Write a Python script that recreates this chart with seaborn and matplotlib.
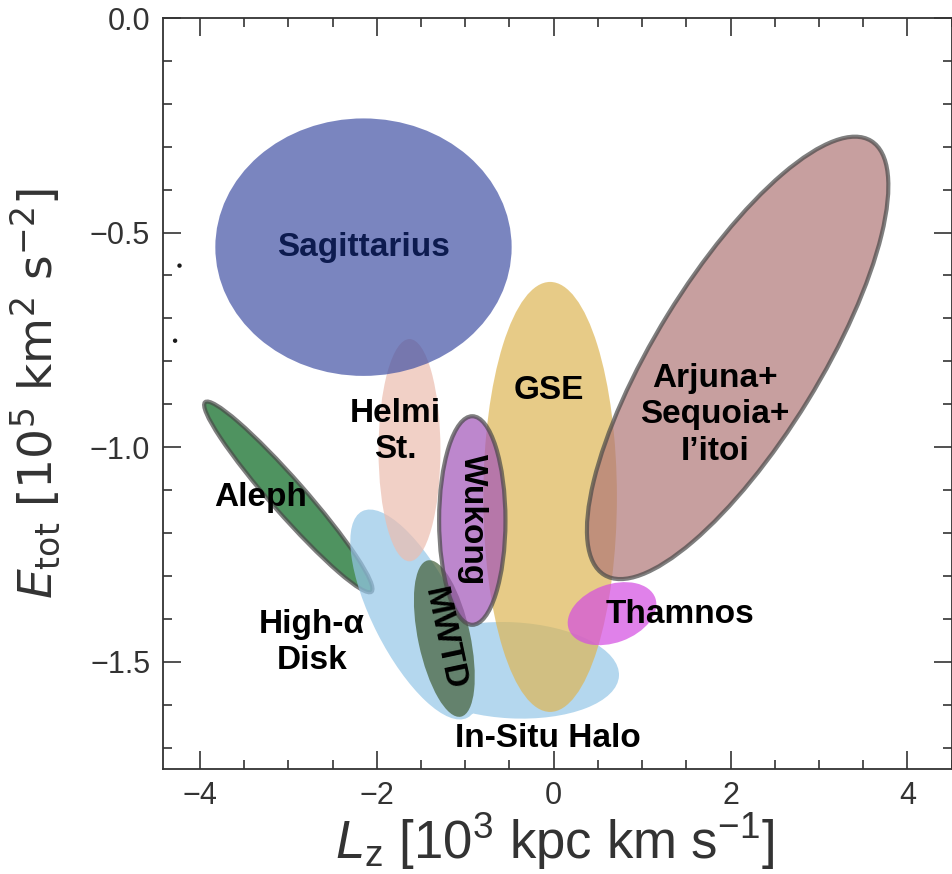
import numpy as np
import pandas as pd
import matplotlib
matplotlib.use('Agg')
import matplotlib.pyplot as plt
import seaborn as sns
from matplotlib.patches import Ellipse, PathPatch
from matplotlib.path import Path
from matplotlib.transforms import Affine2D
from matplotlib import font_manager

# substructure regions in (Lz, Etot) space
# width = extent along the ellipse's own major direction (Lz units),
# height = extent along the minor direction (Etot units), angle in degrees on screen
names = ['Aleph', 'High-α Disk', 'In-Situ Halo', 'Helmi St.', 'Sagittarius',
         'GSE', 'Thamnos', 'Arjuna+Sequoia+I’itoi', 'MWTD', 'Wukong']
cen_lz = [-3.00, -1.57, -0.47, -1.63, -2.15, -0.04, 0.66, 2.08, -1.236, -0.92]
cen_e = [-1.116, -1.39, -1.52, -1.007, -0.534, -1.116, -1.388, -0.792, -1.446, -1.171]
wid = [2.85, 2.62, 2.42, 0.70, 3.35, 1.51, 1.04, 5.76, 1.806, 0.75]
hgt = [0.079, 0.195, 0.224, 0.518, 0.600, 1.002, 0.1355, 0.383, 0.1215, 0.486]
ang = [-48.7, -63.0, -3.0, 0.0, 0.0, 0.0, 20.0, 58.4, -78.0, 0.0]

# labels
lab_text = ['Sagittarius', 'Helmi\nSt.', 'GSE', 'Arjuna+\nSequoia+\nI’itoi', 'Aleph',
            'High-α\nDisk', 'Wukong', 'MWTD', 'Thamnos', 'In-Situ Halo']
lab_lz = [-2.15, -1.79, -0.06, 1.82, -3.31, -2.73, -0.92, -1.236, 1.43, -0.06]
lab_e = [-0.534, -0.963, -0.869, -0.925, -1.118, -1.456, -1.168, -1.446, -1.39, -1.68]
lab_rot = [0, 0, 0, 0, 0, 0, -90, -78, 0, 0]

# two stray stars near the left edge
star_lz = [-4.23, -4.28]
star_e = [-0.577, -0.752]

sns.set_theme(style='ticks')
ttf_names = {f.name for f in font_manager.fontManager.ttflist}
narrow = 'Liberation Sans Narrow' if 'Liberation Sans Narrow' in ttf_names else 'Liberation Sans'
plt.rcParams['font.family'] = [narrow, 'DejaVu Sans']
plt.rcParams['mathtext.fontset'] = 'custom'
plt.rcParams['mathtext.rm'] = narrow
plt.rcParams['mathtext.it'] = narrow + ':italic'
plt.rcParams['mathtext.bf'] = narrow + ':bold'
plt.rcParams['axes.unicode_minus'] = True

W, H = 953, 874
fig = plt.figure(figsize=(W / 100, H / 100), dpi=100)
ax_box = [162.7 / W, 1 - 769 / H, 789 / W, 751 / H]
ax = fig.add_axes(ax_box)
xlim = (-4.42, 4.5)
ylim = (-1.75, 0.0)
ax.set_xlim(*xlim)
ax.set_ylim(*ylim)

# screen aspect (px per y unit / px per x unit)
k = (ax_box[3] * H / (ylim[1] - ylim[0])) / (ax_box[2] * W / (xlim[1] - xlim[0]))
scr = Affine2D().scale(1, 1 / k) + ax.transData

face = {'Aleph': '#05661c', 'High-α Disk': '#94c6e7', 'In-Situ Halo': '#94c6e7',
        'Helmi St.': '#ecbcae', 'Sagittarius': '#4252a5', 'GSE': '#deb654',
        'Thamnos': '#d44ce2', 'Arjuna+Sequoia+I’itoi': '#b07777',
        'MWTD': '#425e37', 'Wukong': '#a254b8'}
edged = {'Aleph', 'Arjuna+Sequoia+I’itoi', 'Wukong'}


def make_ell(i):
    return Ellipse((cen_lz[i], cen_e[i] * k), wid[i], hgt[i] * k, angle=ang[i])


z = 1
blue_paths = []
for i, nm in enumerate(names):
    e = make_ell(i)
    if nm in ('High-α Disk', 'In-Situ Halo'):
        blue_paths.append(e.get_patch_transform().transform_path(e.get_path()))
        if len(blue_paths) == 2:
            pp = PathPatch(Path.make_compound_path(*blue_paths), transform=scr,
                           facecolor=face[nm], edgecolor='none', alpha=0.7, zorder=z)
            ax.add_patch(pp)
            z += 1
        continue
    e.set_transform(scr)
    e.set_facecolor(face[nm])
    e.set_alpha(0.7)
    e.set_zorder(z)
    if nm in edged:
        e.set_edgecolor('#494949')
        e.set_linewidth(3)
    else:
        e.set_edgecolor('none')
    ax.add_patch(e)
    z += 1

sns.scatterplot(x=star_lz, y=star_e, color='k', s=10, edgecolor='none', ax=ax, zorder=z)

for t, x, y, r in zip(lab_text, lab_lz, lab_e, lab_rot):
    col = '#0d1b4f' if t == 'Sagittarius' else 'black'
    ax.text(x, y, t, ha='center', va='center', rotation=r, rotation_mode='anchor',
            fontsize=24, fontweight='bold', family=['Liberation Sans', 'DejaVu Sans'],
            color=col, linespacing=1.22, zorder=30)

# axes styling
ax.set_xticks([-4, -2, 0, 2, 4])
ax.set_yticks([0.0, -0.5, -1.0, -1.5])
ax.set_yticklabels(['0.0', '\u22120.5', '\u22121.0', '\u22121.5'])
ax.set_xticks(np.arange(-4.0, 4.51, 0.5), minor=True)
ax.set_yticks(np.arange(-1.7, 0.001, 0.1), minor=True)
ax.tick_params(which='both', direction='in', top=True, right=True, color='#333333', width=1.2)
ax.tick_params(which='major', length=13, labelsize=22, labelcolor='#333333', pad=9)
ax.tick_params(which='minor', length=6.5)
for s in ax.spines.values():
    s.set_color('#333333')
    s.set_linewidth(1.3)

ax.set_xlabel(r'$L_{\rm z}$ [10$^3$ kpc km s$^{-1}$]', fontsize=38, color='#333333')
ax.xaxis.set_label_coords(0.497, -0.056)
ax.set_ylabel(r'$E_{\rm tot}$ [10$^5$ km$^2$ s$^{-2}$]', fontsize=34, color='#333333',
              family='DejaVu Sans', math_fontfamily='dejavusans')
ax.yaxis.set_label_coords(-0.128, 0.5)

fig.savefig('out.png', dpi=100)
